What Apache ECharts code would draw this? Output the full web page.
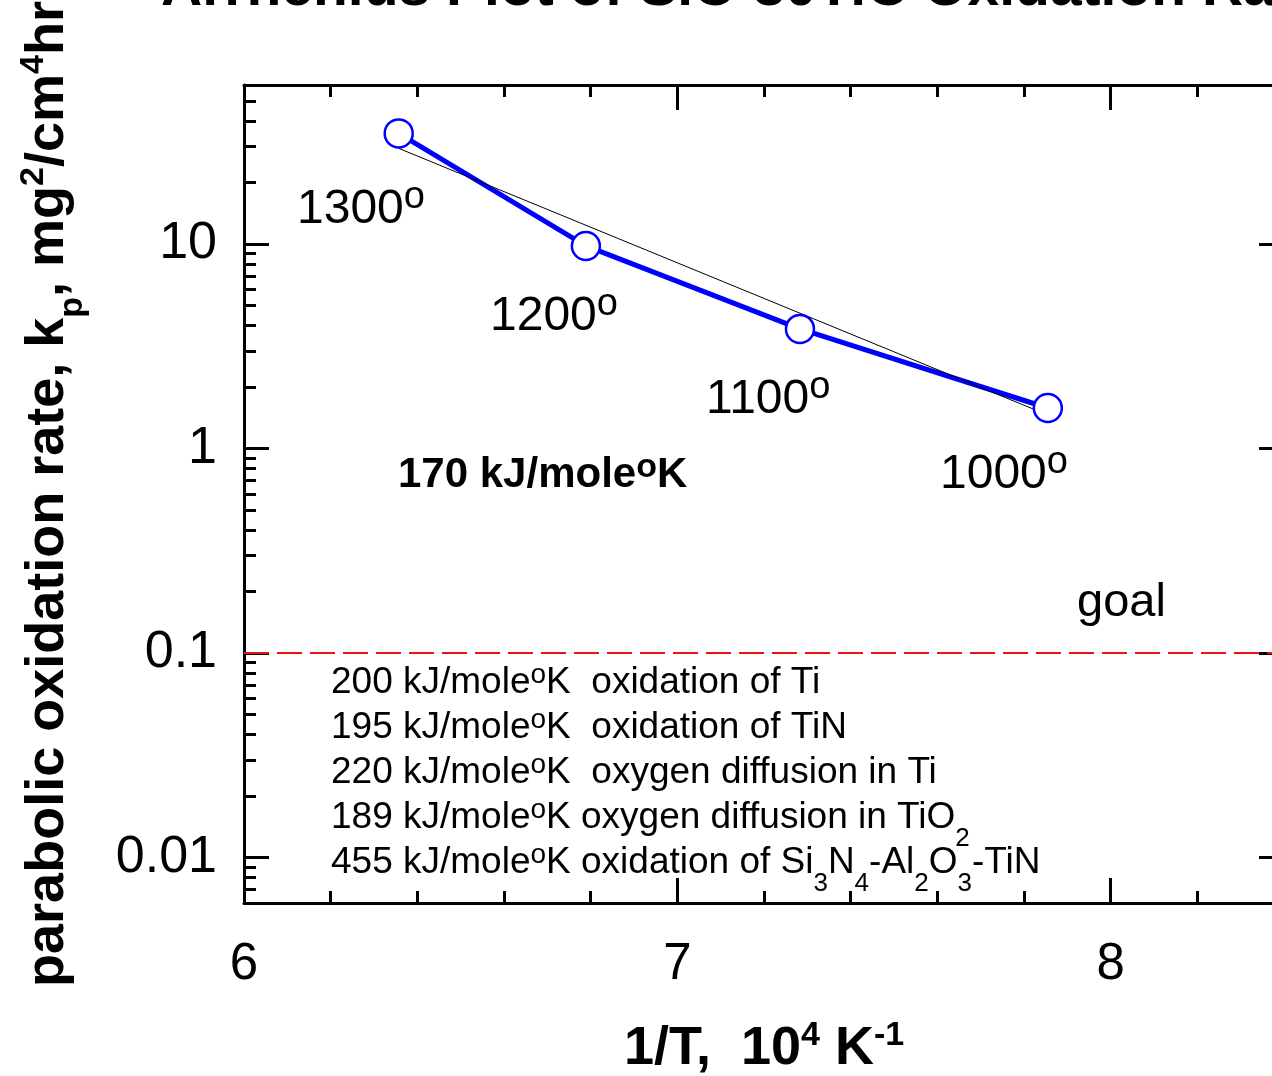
<!DOCTYPE html>
<html>
<head>
<meta charset="utf-8">
<title>Arrhenius Plot</title>
<script src="https://cdn.jsdelivr.net/npm/echarts@6/dist/echarts.min.js"></script>
<style>html,body{margin:0;padding:0;background:#fff;}</style>
</head>
<body>
<div id="main" style="width:1272px;height:1076px;"></div>
<script>
// data
var tempLabels = ['1300', '1200', '1100', '1000'];
var invT = [6.357, 6.789, 7.283, 7.855];     // 1/T, 10^4 K^-1
var kp = [34.8, 9.8, 3.85, 1.58];             // mg^2/cm^4 hr
var fitX = [6.357, 7.855];
var fitKp = [29.4, 1.46];
var goalKp = 0.1;

var xTicks = [6, 7, 8];
var xMinorTicks = [6.2, 6.4, 6.6, 6.8, 7.2, 7.4, 7.6, 7.8, 8.2];
var yTicks = [0.01, 0.1, 1, 10];
var yTickLabels = ['0.01', '0.1', '1', '10'];
var yMinorTicks = [0.007, 0.008, 0.009,
    0.02, 0.03, 0.04, 0.05, 0.06, 0.07, 0.08, 0.09,
    0.2, 0.3, 0.4, 0.5, 0.6, 0.7, 0.8, 0.9,
    2, 3, 4, 5, 6, 7, 8, 9,
    20, 30, 40, 50];

var energyLines = [
    '{n|200 kJ/mole}{o|o}{n|K  oxidation of Ti}',
    '{n|195 kJ/mole}{o|o}{n|K  oxidation of TiN}',
    '{n|220 kJ/mole}{o|o}{n|K  oxygen diffusion in Ti}',
    '{n|189 kJ/mole}{o|o}{n|K oxygen diffusion in TiO}{s|2}',
    '{n|455 kJ/mole}{o|o}{n|K oxidation of Si}{s|3}{n|N}{s|4}{n|-Al}{s|2}{n|O}{s|3}{n|-TiN}'
];

var FONT = '"Liberation Sans", Arial, sans-serif';
var xMin = 6, xMax = 8.4, yMin = 0.006, yMax = 60;

function lg(v) { return Math.log10(v); }

var chart = echarts.init(document.getElementById('main'));

var lineData = invT.map(function (x, i) { return [x, lg(kp[i])]; });
var fitData = fitX.map(function (x, i) { return [x, lg(fitKp[i])]; });

function yLabel(v) {
    for (var i = 0; i < yTicks.length; i++) {
        if (Math.abs(lg(yTicks[i]) - v) < 1e-6) return yTickLabels[i];
    }
    return '';
}

var black = '#000';
function xAxisDef(pos, ticks, len, withLine, withLabel) {
    var a = {
        type: 'value', position: pos, min: xMin, max: xMax, gridIndex: 0,
        axisLine: { show: withLine, onZero: false, lineStyle: { color: black, width: 3 } },
        axisTick: { show: true, inside: true, length: len, customValues: ticks, lineStyle: { color: black, width: 3 } },
        axisLabel: { show: false },
        splitLine: { show: false }
    };
    if (withLabel) {
        a.axisLabel = { show: true, customValues: xTicks, margin: 36, fontSize: 51, fontFamily: FONT, color: black };
        a.name = '{n|1/T,  10}{sup|4}{n| K}{sup|-1}';
        a.nameLocation = 'middle';
        a.nameGap = 116;
        a.nameTextStyle = {
            fontSize: 54, fontWeight: 'bold', fontFamily: FONT, color: black,
            rich: {
                n: { fontSize: 54, fontWeight: 'bold', fontFamily: FONT, color: black, height: 60, lineHeight: 60, verticalAlign: 'bottom' },
                sup: { fontSize: 34, fontWeight: 'bold', fontFamily: FONT, color: black, height: 34, lineHeight: 34, verticalAlign: 'top' }
            }
        };
    }
    return a;
}
function yAxisDef(pos, ticks, len, withLine, withLabel) {
    var a = {
        type: 'value', position: pos, min: lg(yMin), max: lg(yMax), gridIndex: 0,
        axisLine: { show: withLine, onZero: false, lineStyle: { color: black, width: 3 } },
        axisTick: { show: true, inside: true, length: len, customValues: ticks.map(lg), lineStyle: { color: black, width: 3 } },
        axisLabel: { show: false },
        splitLine: { show: false }
    };
    if (withLabel) {
        a.axisLabel = { show: true, customValues: yTicks.map(lg), margin: 27, fontSize: 52, fontFamily: FONT, color: black, formatter: yLabel };
        a.name = '{n|parabolic oxidation rate, k}{sub|p}{n|, mg}{sup|2}{n|/cm}{sup|4}{n|hr}';
        a.nameLocation = 'middle';
        a.nameGap = 166;
        a.nameTextStyle = {
            fontSize: 54, fontWeight: 'bold', fontFamily: FONT, color: black,
            rich: {
                n: { fontSize: 54, fontWeight: 'bold', fontFamily: FONT, color: black, height: 60, lineHeight: 60, verticalAlign: 'bottom' },
                sup: { fontSize: 34, fontWeight: 'bold', fontFamily: FONT, color: black, height: 32, lineHeight: 32, verticalAlign: 'top' },
                sub: { fontSize: 34, fontWeight: 'bold', fontFamily: FONT, color: black, height: 10, lineHeight: 10, verticalAlign: 'bottom' }
            }
        };
    }
    return a;
}

// rich styles for the annotations
var tempRich = {
    n: { fontSize: 48, fontFamily: FONT, fill: black, height: 60, lineHeight: 60, verticalAlign: 'bottom' },
    o: { fontSize: 38, fontFamily: FONT, fill: black, height: 36, lineHeight: 36, verticalAlign: 'top' }
};
var energyRich = {
    n: { fontSize: 37, fontFamily: FONT, fill: black, height: 44, lineHeight: 44, verticalAlign: 'bottom' },
    o: { fontSize: 28, fontFamily: FONT, fill: black, height: 28, lineHeight: 28, verticalAlign: 'top' },
    s: { fontSize: 26, fontFamily: FONT, fill: black, height: 2, lineHeight: 2, verticalAlign: 'bottom' }
};
var boldRich = {
    n: { fontSize: 42, fontWeight: 'bold', fontFamily: FONT, fill: black, height: 50, lineHeight: 50, verticalAlign: 'bottom' },
    o: { fontSize: 34, fontWeight: 'bold', fontFamily: FONT, fill: black, height: 36, lineHeight: 36, verticalAlign: 'top' }
};

var tempPos = [[297, 210], [490, 317], [706, 400], [940, 475]];
var energyY = [683, 728, 773, 818, 863];

var graphics = [];
tempLabels.forEach(function (t, i) {
    graphics.push({
        type: 'text', x: tempPos[i][0], y: tempPos[i][1], z: 10,
        style: { text: '{n|' + t + '}{o|o}', rich: tempRich, verticalAlign: 'middle', align: 'left' }
    });
});
energyLines.forEach(function (t, i) {
    graphics.push({
        type: 'text', x: 331, y: energyY[i], z: 10,
        style: { text: t, rich: energyRich, verticalAlign: 'middle', align: 'left' }
    });
});
graphics.push({
    type: 'text', x: 398, y: 475, z: 10,
    style: { text: '{n|170 kJ/mole}{o|o}{n|K}', rich: boldRich, verticalAlign: 'middle', align: 'left' }
});
graphics.push({
    type: 'text', x: 1077, y: 603, z: 10,
    style: { text: 'goal', fontSize: 47, fontFamily: FONT, fill: black, lineHeight: 50, verticalAlign: 'middle', align: 'left' }
});

chart.setOption({
    animation: false,
    backgroundColor: '#fff',
    title: {
        text: 'Arrhenius Plot of SiC-30TiC Oxidation Rate',
        left: 161, top: -39, padding: 0,
        textStyle: { fontSize: 57, fontWeight: 'bold', fontFamily: FONT, color: black, lineHeight: 57 }
    },
    grid: { left: 244, top: 85, right: -12, bottom: 173, containLabel: false, outerBoundsMode: 'none' },
    xAxis: [
        xAxisDef('bottom', xTicks, 25, true, true),
        xAxisDef('bottom', xMinorTicks, 12, false, false),
        xAxisDef('top', xTicks, 25, true, false),
        xAxisDef('top', xMinorTicks, 12, false, false)
    ],
    yAxis: [
        yAxisDef('left', yTicks, 25, true, true),
        yAxisDef('left', yMinorTicks, 12, false, false),
        yAxisDef('right', yTicks, 25, true, false),
        yAxisDef('right', yMinorTicks, 12, false, false)
    ],
    graphic: graphics,
    series: [
        {
            name: 'kp', type: 'line', data: lineData, xAxisIndex: 0, yAxisIndex: 0,
            symbol: 'none', lineStyle: { color: '#0000ff', width: 5 }, z: 2
        },
        {
            name: 'fit', type: 'line', data: fitData, xAxisIndex: 0, yAxisIndex: 0,
            symbol: 'none', lineStyle: { color: black, width: 1 }, z: 3,
            markLine: {
                silent: true, symbol: ['none', 'none'], label: { show: false },
                lineStyle: { color: '#ee1111', width: 2, type: [25, 8] },
                data: [{ yAxis: lg(goalKp) }]
            }
        },
        {
            name: 'points', type: 'scatter', data: lineData, xAxisIndex: 0, yAxisIndex: 0,
            symbol: 'circle', symbolSize: 28,
            itemStyle: { color: '#fff', borderColor: '#0000ff', borderWidth: 2.5, opacity: 1 }, z: 4
        }
    ]
});
</script>
</body>
</html>
